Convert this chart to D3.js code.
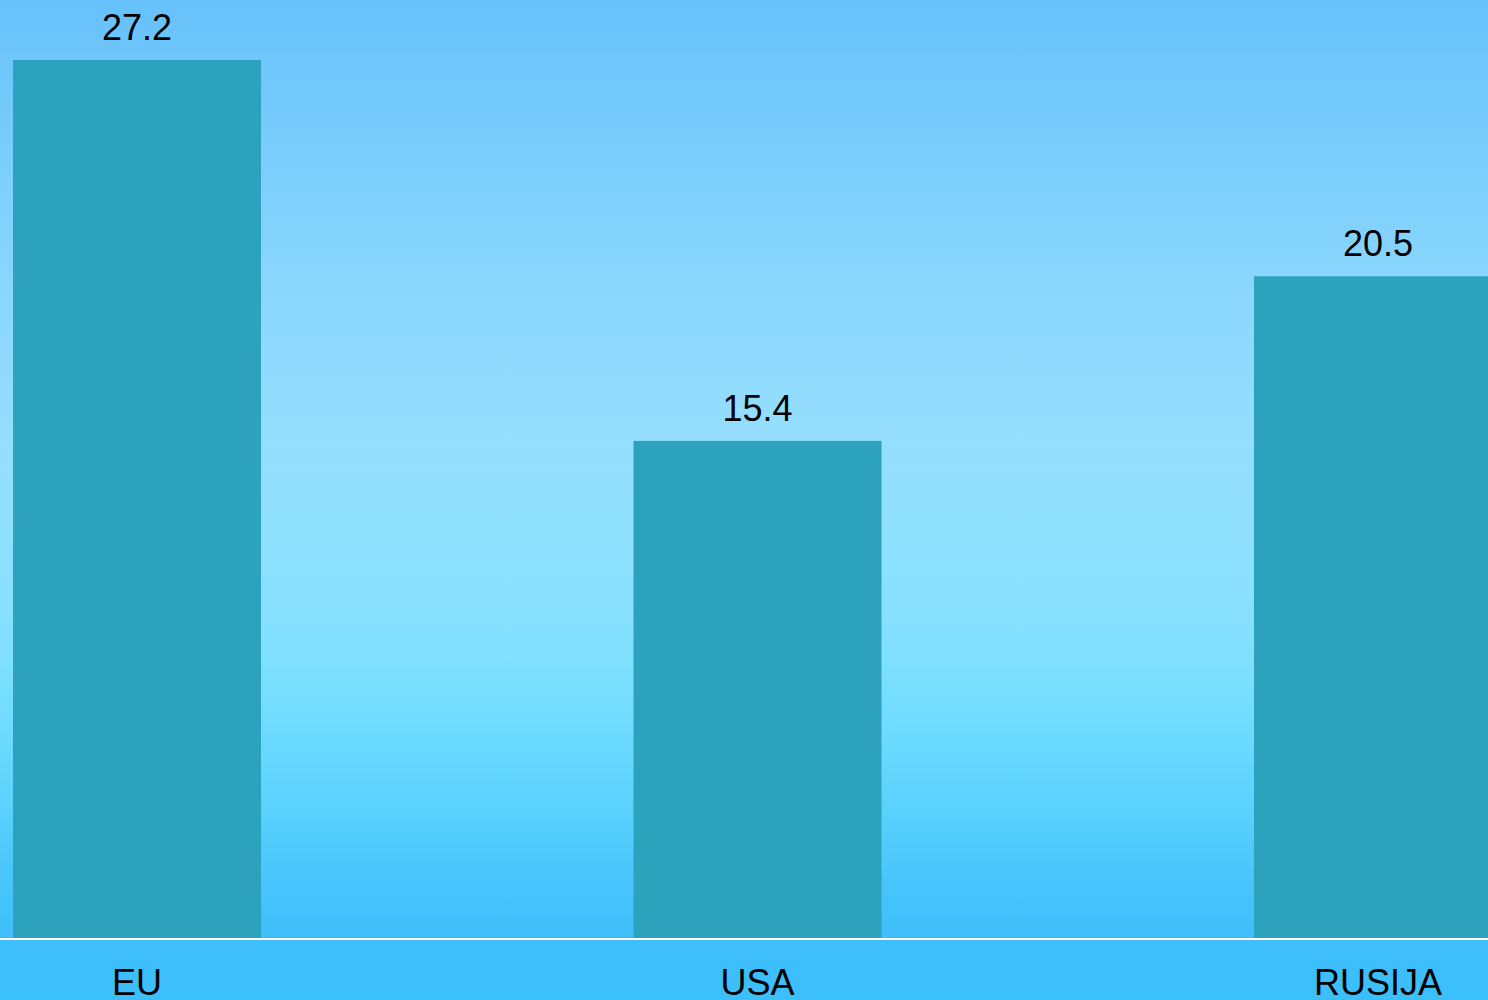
<!DOCTYPE html>
<html>
<head>
<meta charset="utf-8">
<script src="https://cdn.jsdelivr.net/npm/d3@7"></script>
<style>
html,body{margin:0;padding:0;overflow:hidden;}
svg{display:block;}
</style>
</head>
<body>
<svg id="chart" width="1488" height="1000"></svg>
<script>
const categories = ["EU", "USA", "RUSIJA"];
const values = [27.2, 15.4, 20.5];

const W = 1488, H = 1000;
const svg = d3.select("#chart");

const defs = svg.append("defs");
const grad = defs.append("linearGradient").attr("id","bg").attr("x1",0).attr("y1",0).attr("x2",0).attr("y2",1);
[[0,"#66c1fa"],[0.15,"#7acdfc"],[0.3,"#8bd7fd"],[0.44,"#95defd"],[0.56,"#8de1fe"],[0.66,"#80e0fe"],[0.73,"#6ddbfe"],[0.81,"#5ad1fd"],[0.88,"#48c5fb"],[0.94,"#3ebefa"],[1,"#3bbffa"]]
  .forEach(([o,c]) => grad.append("stop").attr("offset",o).attr("stop-color",c));
svg.append("rect").attr("width",W).attr("height",H).attr("fill","url(#bg)");

const baseY = 938;
const step = 620.5, bw = 248;
const xb = d3.scaleBand().domain(categories)
  .range([13 - (step - bw) * 0.5, 13 - (step - bw) * 0.5 + 3 * step])
  .paddingInner((step - bw) / step).paddingOuter(0.5 * (step - bw) / step);

const y = d3.scaleLinear().domain([0, 27.2]).range([baseY, 60]);

svg.append("g").selectAll("rect").data(values).join("rect")
  .attr("x", (d,i) => xb(categories[i]))
  .attr("width", xb.bandwidth())
  .attr("y", d => y(d))
  .attr("height", d => baseY - y(d))
  .attr("fill", "#2ca2bd");

svg.append("line").attr("x1",0).attr("x2",W).attr("y1",baseY+1).attr("y2",baseY+1)
  .attr("stroke","#ffffff").attr("stroke-width",2);

svg.append("g").selectAll("text").data(values).join("text")
  .attr("x", (d,i) => xb(categories[i]) + xb.bandwidth()/2)
  .attr("y", d => y(d) - 20)
  .attr("text-anchor","middle")
  .attr("font-family","'Liberation Sans', Arial, sans-serif")
  .attr("font-size", 36)
  .attr("fill","#000")
  .text(d => d.toFixed(1));

const xAxis = d3.axisBottom(xb).tickSize(0).tickPadding(0);
const ax = svg.append("g").attr("transform", `translate(0,${baseY})`).call(xAxis);
ax.select(".domain").remove();
ax.selectAll("text")
  .attr("dy", null)
  .attr("y", 57)
  .attr("font-family","'Liberation Sans', Arial, sans-serif")
  .attr("font-size", 36)
  .attr("fill","#000");
</script>
</body>
</html>
